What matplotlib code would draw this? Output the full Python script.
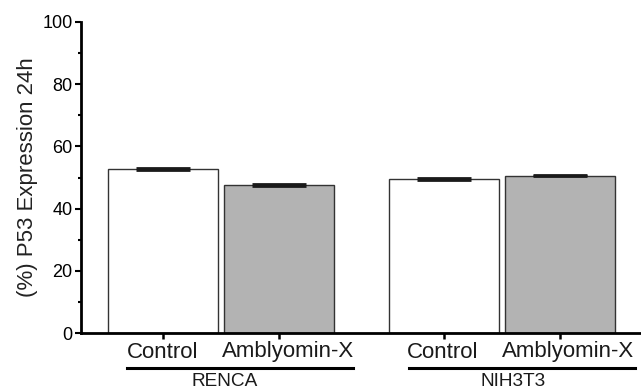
import matplotlib
matplotlib.use("Agg")
import matplotlib.pyplot as plt
from matplotlib.ticker import MultipleLocator

plt.rcParams['font.family'] = ['Liberation Sans', 'DejaVu Sans']

groups = ["RENCA", "NIH3T3"]
conditions = ["Control", "Amblyomin-X", "Control", "Amblyomin-X"]
values = [52.6, 47.6, 49.5, 50.6]
errors = [0.3, 0.3, 0.2, 0.2]
colors = ["white", "#b3b3b3", "white", "#b3b3b3"]
positions = [0.0, 1.0, 2.42, 3.42]
yticks = [0, 20, 40, 60, 80, 100]

fig = plt.figure(figsize=(6.41, 3.91), dpi=100)
ax = fig.add_axes([81/641, 58/391, 1 - 81/641, 311/391])

ax.bar(positions, values, width=0.95, color=colors, edgecolor="#333333", linewidth=1.0, zorder=2)
ax.errorbar(positions, values, yerr=errors, fmt="none", ecolor="#1a1a1a",
            elinewidth=1.5, capsize=19.5, capthick=2.0, zorder=3)

ax.set_xlim(-0.707, 4.12)
ax.set_ylim(0, 100)
ax.set_yticks(yticks)
ax.yaxis.set_minor_locator(MultipleLocator(10))
ax.tick_params(axis='y', which='major', length=4, width=1.5, labelsize=13, pad=2, colors='black')
ax.tick_params(axis='y', which='minor', length=2.5, width=1.5)
ax.set_xticks(positions)
ax.set_xticklabels([])
ax.tick_params(axis='x', which='major', length=4, width=1.8)

for s in ['top', 'right']:
    ax.spines[s].set_visible(False)
ax.spines['left'].set_linewidth(2)
ax.spines['bottom'].set_linewidth(2)

ax.set_ylabel("(%) P53 Expression 24h", fontsize=16, labelpad=3, color='#222222')

label_centers = [163, 288, 443, 568]
for cx, lab in zip(label_centers, conditions):
    fig.text(cx/641, 1 - 352/391, lab, ha='center', va='center', fontsize=16, color='#1a1a1a')

underlines = [(127, 353), (409, 635)]
group_centers = [225, 513]
for (x0, x1), gc, g in zip(underlines, group_centers, groups):
    fig.add_artist(plt.Line2D([x0/641, x1/641], [1 - 367.5/391]*2, color='black', linewidth=2.2))
    fig.text(gc/641, 1 - 382/391, g, ha='center', va='center', fontsize=13.7, color='#1a1a1a')

fig.savefig("out.png", dpi=100)
